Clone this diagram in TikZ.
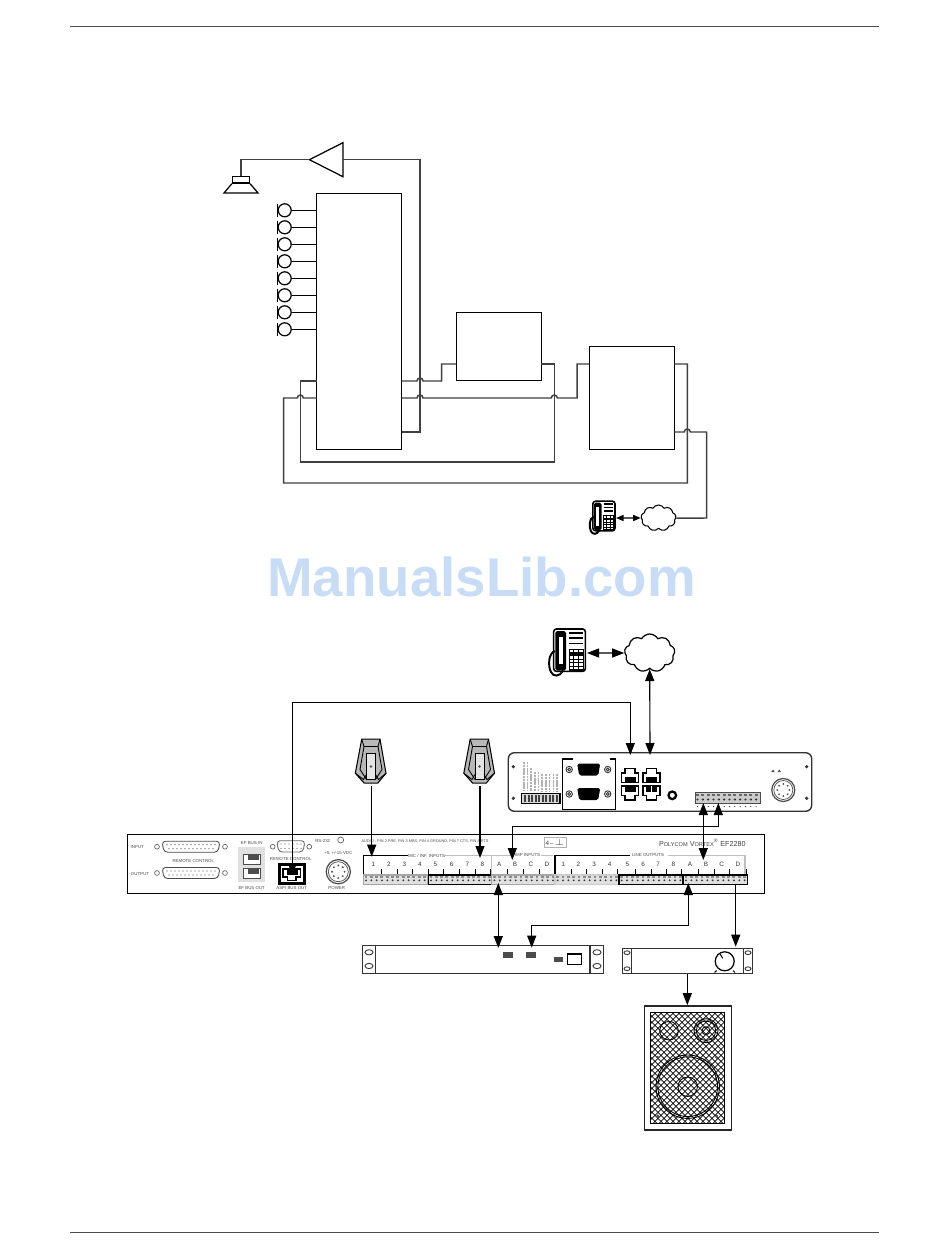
\documentclass[tikz,border=0pt]{standalone}
\usepackage{fontspec}
\setmainfont{Liberation Sans}
\usetikzlibrary{arrows.meta,shapes.geometric,shapes.symbols,calc}

\definecolor{markblue}{RGB}{200,220,245}

\tikzset{
	box/.style={draw=black, line width=0.7pt, fill=white, inner sep=0pt},
	wire/.style={draw=black!75, line width=0.85pt, line join=miter},
	link/.style={draw=black, line width=0.65pt},
	tinytext/.style={font=\fontsize{2.5}{3}\selectfont, text=black!70, inner sep=0pt},
	numtext/.style={font=\fontsize{3.6}{4}\selectfont, text=black!80, inner sep=0pt},
	rackcase/.style={draw=black!80, line width=0.8pt, fill=white},
	% desk telephone, drawn around its middle
	phone/.pic={
		\draw[black, line width=0.9pt, fill=white, rounded corners=1.5] (-12.3,-24) rectangle (19.3,18.3);
		\fill[black, rounded corners=1] (-10.7,-22) rectangle (0,17.5);
		\fill[white] (-7.5,-16) rectangle (-3.5,11);
		\draw[black, line width=1.1pt] (-11,-2) .. controls (-18,0) and (-18,14) .. (-15,19) .. controls (-13,24) and (-6,24) .. (-3,17.5);
		\foreach \ly in {-20,-15,-9.5} {
			\draw[black, line width=1.1pt] (3,\ly) -- (17,\ly);
		}
		\fill[black] (2.5,-4.5) rectangle (17.5,17.5);
		\foreach \kx in {3.5,8.3,13.1} {
			\fill[white] (\kx,-3.5) rectangle ++(3.6,2.8);
			\foreach \ky in {3,6.6,10.2,13.6} {
				\fill[white] (\kx,\ky) rectangle ++(3.6,2.6);
			}
		}
	},
	% telescoping gooseneck style microphone seen from the top
	micro/.pic={
		\draw[black, line width=0.6pt, fill=black!28] (-9.3,-22.3) -- (9,-22.3) -- (15,11.7) -- (6.7,21.7) -- (-6.7,21.7) -- (-15.7,11.7) -- cycle;
		\draw[black, line width=0.5pt, fill=black!10] (-4.5,-8) rectangle (4.5,18);
		\draw[black, line width=0.5pt] (-9.3,-22.3) -- (-7,-15) -- (7,-15) -- (9,-22.3);
		\draw[black, line width=0.5pt] (-7,-15) -- (-11,8) -- (-4.5,18);
		\draw[black, line width=0.5pt] (7,-15) -- (11,8) -- (4.5,18);
		\draw[black, line width=0.5pt] (-15.7,11.7) -- (-7.5,18) -- (-4.5,13);
		\draw[black, line width=0.5pt] (15,11.7) -- (7.5,18) -- (4.5,13);
		\fill[black!70] (0,5) circle (1.3);
	},
	% modular jack with the latch notch on top
	jack/.pic={
		\draw[black, line width=0.8pt, fill=white] (-8.5,7) -- (-8.5,-2.5) -- (-5,-2.5) -- (-5,-7) -- (5,-7) -- (5,-2.5) -- (8.5,-2.5) -- (8.5,7) -- cycle;
		\fill[black] (-5.5,1.5) rectangle (5.5,7);
	},
	% nine pin sub-D with its two screws
	subd/.pic={
		\fill[black, rounded corners=1] (-11.5,-6) -- (11.5,-6) -- (9.5,6) -- (-9.5,6) -- cycle;
		\foreach \sx in {-19.5,19} {
			\draw[black!80, line width=0.5pt] (\sx,0) circle (3.2);
			\draw[black!80, line width=0.5pt] (\sx,0) circle (1.5);
		}
	},
	% twenty five pin connector outline for the back panel
	dbplug/.pic={
		\draw[black!70, line width=0.5pt, rounded corners=2] (-29,-5.5) -- (29,-5.5) -- (27,5.5) -- (-27,5.5) -- cycle;
		\foreach \dx in {-24,-20,...,24} {
			\fill[black!70] (\dx,-2) circle (0.7);
		}
		\foreach \dx in {-22,-18,...,22} {
			\fill[black!70] (\dx,2) circle (0.7);
		}
		\draw[black!60, line width=0.4pt] (-34,0) circle (2.4);
		\draw[black!60, line width=0.4pt] (34,0) circle (2.4);
	},
	% round power socket
	din/.pic={
		\draw[black!70, line width=0.7pt] (0,0) circle (11.5);
		\draw[black!70, line width=0.4pt] (0,0) circle (9.5);
		\foreach \pa in {0,45,...,315} {
			\fill[black!70] (\pa:6) circle (1);
		}
	},
}

\begin{document}
\begin{tikzpicture}[x=0.02cm, y=-0.02cm, line cap=butt, >={Triangle[length=0.24cm, width=0.18cm]}]

	\useasboundingbox (0,0) rectangle (950,1260);
	\fill[white] (0,0) rectangle (950,1260);

	% Page rules
	\coordinate (ruleTL) at (70,26.5);
	\coordinate (ruleTR) at (879,26.5);
	\coordinate (ruleBL) at (70,1232.5);
	\coordinate (ruleBR) at (879,1232.5);
	\draw[black!70, line width=0.6pt] (ruleTL) -- (ruleTR);
	\draw[black!70, line width=0.6pt] (ruleBL) -- (ruleBR);

	% Watermark
	\node[inner sep=0pt, text=markblue, font=\fontsize{31.1}{36}\selectfont\bfseries] (mark) at (481.5,577) {ManualsLib.com};

	%%% Upper schematic %%%

	% Boxes
	\node[box, minimum width=1.7cm, minimum height=5.12cm] (mixer) at (359,321.2) {};
	\node[box, minimum width=1.7cm, minimum height=1.36cm] (hybrid) at (498.8,346.3) {};
	\node[box, minimum width=1.7cm, minimum height=2.06cm] (coder) at (631.8,397.8) {};

	% Amplifier and loudspeaker
	\node[draw=black, line width=0.7pt, isosceles triangle, isosceles triangle stretches, shape border rotate=180, minimum width=0.68cm, minimum height=0.67cm, inner sep=0pt] (poweramp) at (332.5,159.7) {};
	\coordinate (ampback) at (343,159.5);
	\node[box, minimum width=0.34cm, minimum height=0.134cm] (spkhead) at (241,179.7) {};
	\draw[black, line width=0.7pt] (spkhead.south west) -- (224,193) -- (258,193) -- (spkhead.south east);
	\draw[wire] (poweramp.apex) -| (spkhead.north);

	% Microphones along the left side
	\foreach \i [evaluate=\i as \cy using 210.3+17*(\i-1)] in {1,...,8} {
		\node[draw=black, line width=0.7pt, circle, minimum size=0.26cm, inner sep=0pt] (mic\i) at (284.7,\cy) {};
		\draw[black, line width=0.7pt] ([yshift=0.13cm]mic\i.west) -- ([yshift=-0.13cm]mic\i.west);
		\draw[black, line width=0.6pt] (mic\i.east) -- (mic\i.east -| mixer.west);
	}

	% Ports on the box sides
	\coordinate (mixR1) at (401.5,381);
	\coordinate (mixR2) at (401.5,398);
	\coordinate (mixR3) at (401.5,432);
	\coordinate (mixL1) at (316.5,381);
	\coordinate (mixL2) at (316.5,398);
	\coordinate (hybL) at (456.3,364);
	\coordinate (hybR) at (541.3,364);
	\coordinate (codL) at (589.3,364);
	\coordinate (codR1) at (674.3,364);
	\coordinate (codR2) at (674.3,432);

	% Phone line side
	\pic[scale=0.7] at (601.5,518) {phone};
	\node[draw=black, line width=0.6pt, cloud, cloud puffs=9, cloud puff arc=120, aspect=1.3, minimum width=0.7cm, minimum height=0.52cm, inner sep=0pt] (pstnA) at (658.5,518) {};
	\coordinate (phoneA) at (616,518);
	\draw[{Triangle[length=0.15cm, width=0.12cm]}-{Triangle[length=0.15cm, width=0.12cm]}, link] (phoneA) -- (pstnA.west);

	% Wiring
	\draw[wire] (ampback) -- (420,159.5) -- (420,432) -- (mixR3);
	\draw[wire] (mixR1) -- (417,381) arc[start angle=180, delta angle=180, radius=3] -- (441.7,381) -- (441.7,364) -- (hybL);
	\draw[wire] (mixR2) -- (417,398) arc[start angle=180, delta angle=180, radius=3] -- (551.3,398) arc[start angle=180, delta angle=180, radius=3] -- (577,398) -- (577,364) -- (codL);
	\draw[wire] (hybR) -- (554.3,364) -- (554.3,462) -- (300.3,462) -- (300.3,381) -- (mixL1);
	\draw[wire] (codR1) -- (687.3,364) -- (687.3,483) -- (283.7,483) -- (283.7,398) -- (297.3,398) arc[start angle=180, delta angle=180, radius=3] -- (mixL2);
	\draw[wire] (codR2) -- (684.3,432) arc[start angle=180, delta angle=180, radius=3] -- (706.5,432) -- (706.5,518) -- (pstnA.east);

	%%% Lower wiring diagram %%%

	% Telephone and network
	\pic at (566,653) {phone};
	\coordinate (phoneB) at (587,653);
	\node[draw=black, line width=0.7pt, cloud, cloud puffs=9, cloud puff arc=120, aspect=1.35, minimum width=1.01cm, minimum height=0.76cm, inner sep=0pt] (pstnB) at (649.7,653) {};
	\draw[<->, link] (phoneB) -- (pstnB.west);

	% Microphones on the table
	\pic at (371,761.5) {micro};
	\pic at (479.5,761.5) {micro};
	\coordinate (micA) at (371.7,786);
	\coordinate (micB) at (480,786);

	% Telephone hybrid unit
	\node[draw=black!80, line width=0.8pt, rounded corners=0.12cm, minimum width=6.07cm, minimum height=1.17cm, inner sep=0pt] (hybunit) at (660,782) {};
	\foreach \sx/\sy in {513.3/766.7, 513.3/798.3, 806.7/766.7, 806.7/798.3} {
		\fill[black!80] (\sx,\sy) circle (1.8);
	}
	\foreach \ax/\ay in {524/762, 527.5/762, 531/768, 535/772, 538.5/772, 542/774, 546/774, 549.5/774, 553.5/774, 557/774} {
		\draw[black!30, line width=0.6pt, dash pattern=on 1.2pt off 0.4pt] (\ax,\ay) -- (\ax,791);
	}
	\draw[black, line width=0.6pt, fill=black!15] (521.7,793.3) rectangle (560,803.3);
	\foreach \ax in {524,527.5,...,558} {
		\fill[black!75] (\ax,795) rectangle ++(2.2,6.5);
	}
	\draw[black, line width=0.7pt] (573,759) -- (562.7,759) -- (562.7,809.3) -- (615.7,809.3) -- (615.7,759) -- (610,759);
	\pic at (588.7,769.5) {subd};
	\pic at (588.7,794) {subd};
	\pic at (630,775.5) {jack};
	\pic at (651.5,775.5) {jack};
	\pic[yscale=-1] at (630,793) {jack};
	\pic[yscale=-1] at (651.5,793) {jack};
	\draw[white, line width=0.7pt] (651.5,786) -- (651.5,792);
	\draw[black, line width=1.3pt, fill=white] (672.3,795.3) circle (3.8);
	\draw[black!70, line width=0.5pt, fill=black!20] (695,792.7) rectangle (760,803.3);
	\foreach \t in {0,...,11} {
		\fill[black!80] (\t*5.33+697.5,799.5) circle (1.2);
		\fill[black!60] (\t*5.33+696,794) rectangle ++(3,2);
		\fill[black!80] (\t*5.33+697.5,806.5) circle (0.6);
	}
	\pic at (783.3,790) {din};
	\fill[black!70] (773,769.5) -- (771.3,772) -- (774.7,772) -- cycle;
	\fill[black!70] (779.3,769.5) -- (777.6,772) -- (781,772) -- cycle;
	\coordinate (hybPortA) at (630.3,755);
	\coordinate (hybPortB) at (650,755);
	\coordinate (hybTermA) at (703.3,803);
	\coordinate (hybTermB) at (718.3,803);

	% Back panel of the mixer
	\node[draw=black, line width=0.7pt, minimum width=12.74cm, minimum height=1.18cm, inner sep=0pt] (panel) at (445.8,864) {};
	\node[tinytext] (lblinput) at (137.3,846.7) {INPUT};
	\node[tinytext] (lbloutput) at (140,874) {OUTPUT};
	\pic at (191,846.7) {dbplug};
	\pic at (191,873) {dbplug};
	\node[tinytext] (lblremA) at (193.3,861) {REMOTE CONTROL};
	\node[tinytext] (lblbusin) at (251.7,842.7) {EF BUS IN};
	\node[tinytext] (lblbusout) at (251.7,888.3) {EF BUS OUT};
	\fill[black!12] (238.3,846.7) rectangle (265,882.3);
	\foreach \jy in {859.3,873.3} {
		\draw[black!70, line width=0.5pt, fill=white] (243,\jy-5) rectangle (260.5,\jy+5);
		\fill[black!70] (248,\jy-4) rectangle (259,\jy+1);
	}
	\draw[black!60, line width=0.5pt, rounded corners=2] (276.7,840.7) -- (305,840.7) -- (303,852) -- (278.7,852) -- cycle;
	\foreach \dx in {281,285,...,301} {
		\fill[black!60] (\dx,844) circle (0.7);
		\fill[black!60] (\dx,848.5) circle (0.7);
	}
	\draw[black!60, line width=0.4pt] (272.7,846.7) circle (2.4);
	\draw[black!60, line width=0.4pt] (309.3,846.7) circle (2.4);
	\node[tinytext] (lblremB) at (290.7,859.3) {REMOTE CONTROL};
	\draw[black, line width=1.5pt, fill=white] (279.3,864.3) rectangle (304.3,883.3);
	\draw[black, line width=0.6pt] (283,877) -- (283,869) -- (300.5,869) -- (300.5,877) -- (296,877) -- (296,880.5) -- (287.5,880.5) -- (287.5,877) -- cycle;
	\fill[black] (286.7,868) rectangle (297.7,875);
	\node[tinytext] (lblaspi) at (291.7,888.3) {ASPI BUS OUT};
	\node[tinytext] (lblrs) at (322.7,840.7) {RS-232};
	\draw[black!60, line width=0.4pt] (340.7,840) circle (3);
	\node[tinytext] (lblvdc) at (338.3,852.7) {+5, +/-15 VDC};
	\pic[scale=1.05] at (338.3,871.7) {din};
	\node[tinytext] (lblpower) at (336.7,888.3) {POWER};
	\node[tinytext, font=\fontsize{2.2}{3}\selectfont] (lblpins) at (425,841) {AUDIO - PIN 2 PRE, PIN 3 MBS, PIN 4 GROUND, PIN 7 CTS, PIN 8 RTS};
	\node[draw=black!30, line width=0.3pt, inner sep=1pt, font=\fontsize{3.6}{4}\selectfont, text=black!75] (lbllogic) at (555,842) {4\,--\,$\perp$};
	\node[inner sep=0pt, anchor=east, text=black!75] (brand) at (746,842.5) {\fontsize{4.1}{6}\selectfont P{\fontsize{3.2}{6}\selectfont OLYCOM} V{\fontsize{3.2}{6}\selectfont ORTEX}\textsuperscript{\textregistered}\ \fontsize{4.1}{6}\selectfont EF2280};

	% Channel headings
	\draw[black, line width=0.6pt] (363.3,875) -- (363.3,855.7) -- (408,855.7);
	\node[tinytext] (lblmic) at (426.5,855.7) {MIC / INF. INPUTS};
	\draw[black!25, line width=0.6pt] (445,855.7) -- (491.7,855.7) -- (491.7,875);
	\draw[black!25, line width=0.6pt] (491.7,855.7) -- (513,855.7);
	\node[tinytext] (lblamp) at (526.7,854.7) {AMP INPUTS};
	\draw[black!25, line width=0.6pt] (541,855.7) -- (553,855.7);
	\draw[black, line width=0.6pt] (555,875) -- (555,855.7) -- (630,855.7);
	\node[tinytext] (lblline) at (648,854.7) {LINE OUTPUTS};
	\draw[black!25, line width=0.6pt] (668,855.7) -- (745,855.7) -- (745,875);

	% Channel numbers
	\foreach \n/\lx [count=\c] in {1/373.3, 2/389, 3/404.5, 4/420, 5/435.5, 6/451.7, 7/467.3, 8/482.3, A/499.3, B/515, C/531, D/547, 1/563.3, 2/578.5, 3/594, 4/609.7, 5/627.3, 6/643, 7/658, 8/673.3, A/690, B/706, C/721.7, D/738} {
		\node[numtext] (ch\c) at (\lx,864.3) {\n};
		\draw[black, line width=0.4pt] (\lx+8,869) -- (\lx+8,875);
	}

	% Terminal strips
	\foreach \gx/\gc in {363.3/black!35, 428.3/black, 491.7/black!35, 555/black!20, 619/black, 683.3/black} {
		\draw[draw=\gc, line width=0.6pt, fill=black!12] (\gx,875) rectangle ++(64,9.4);
		\foreach \t in {0,...,11} {
			\fill[black!80] (\gx+\t*5.33+2.7,880.3) circle (1);
			\fill[black!45] (\gx+\t*5.33+1.2,876) rectangle ++(2.8,1.8);
		}
	}
	\coordinate (inMicA) at (371.7,856.7);
	\coordinate (inMicB) at (480,858);
	\coordinate (inAmp) at (512.3,860);
	\coordinate (outB) at (703.3,860);
	\coordinate (aspi) at (292.3,875);
	\coordinate (inAecA) at (498.3,883);
	\coordinate (outA) at (688.3,883);
	\coordinate (outD) at (735.7,884);

	% Rack unit with the echo cancellers
	\node[rackcase, minimum width=4.83cm, minimum height=0.55cm, inner sep=0pt] (rack) at (483,959.5) {};
	\draw[black!80, line width=0.8pt] (375.7,945.7) -- (375.7,973.3);
	\draw[black!80, line width=0.8pt] (590,945.7) -- (590,973.3);
	\foreach \hx/\hy in {369/952.3, 369/966, 597/952.3, 597/966} {
		\draw[black!80, line width=0.5pt] (\hx,\hy) ellipse (4 and 2.6);
	}
	\fill[black!70] (503,952.3) rectangle (513,957.6);
	\fill[black!70] (526,952.3) rectangle (536,957.6);
	\fill[black!70] (553.5,957) rectangle (562.5,961.5);
	\draw[black, line width=0.6pt] (567.3,954) rectangle (581.7,964.7);
	\coordinate (rackA) at (498.3,948);
	\coordinate (rackB) at (531.7,947.7);

	% Power amplifier with its knob
	\node[rackcase, minimum width=2.61cm, minimum height=0.5cm, inner sep=0pt] (ampunit) at (687.5,960.8) {};
	\draw[black!80, line width=0.8pt] (631.7,948.3) -- (631.7,973.3);
	\draw[black!80, line width=0.8pt] (743.3,948.3) -- (743.3,973.3);
	\foreach \hx/\hy in {627/952.7, 627/968.7, 748/952.7, 748/968.7} {
		\draw[black!80, line width=0.5pt] (\hx,\hy) ellipse (3 and 1.9);
	}
	\node[draw=black, line width=0.7pt, circle, minimum size=0.38cm, inner sep=0pt] (knob) at (724.7,961.3) {};
	\draw[black, line width=0.6pt] (knob.center) ++(-5,-8) -- ++(3,5);
	\draw[black, line width=0.6pt] (716.5,970.5) -- (714.5,972.5);
	\draw[black, line width=0.6pt] (733,970.5) -- (735,972.5);

	% Loudspeaker cabinet with its grille
	\node[draw=black!85, line width=0.9pt, minimum width=1.74cm, minimum height=2.48cm, inner sep=0pt] (cabinet) at (687.8,1068) {};
	\begin{scope}
		\clip (650.3,1012.3) rectangle (724.7,1123.3);
		\foreach \hx in {540,546,...,726} {
			\draw[black, line width=0.4pt] (\hx,1012.3) -- ++(112,112);
		}
		\foreach \hx in {650,656,...,836} {
			\draw[black, line width=0.4pt] (\hx,1012.3) -- ++(-112,112);
		}
	\end{scope}
	\draw[black, line width=0.8pt] (650.3,1012.3) rectangle (724.7,1123.3);
	\draw[black, line width=0.5pt] (669,1030.7) circle (9.3);
	\draw[black, line width=0.5pt] (706,1030.7) circle (12);
	\draw[black, line width=0.5pt] (706,1030.7) circle (9.7);
	\draw[black, line width=0.5pt] (706,1030.7) circle (4);
	\draw[black, line width=0.5pt] (687.7,1086.7) circle (31.7);
	\draw[black, line width=0.5pt] (687.7,1086.7) circle (29.8);
	\draw[black, line width=0.5pt] (687.7,1086.7) circle (9.7);
	\foreach \sx/\sy in {657.7/1057.3, 716.7/1057.3, 657.7/1116, 716.7/1116} {
		\fill[black!70] (\sx,\sy) circle (1.6);
	}

	% Connections
	\draw[<->, link] (pstnB.south) -- (hybPortB);
	\draw[<->, link] (aspi) -- (292.3,702.3) -- (630.3,702.3) -- (hybPortA);
	\draw[->, link] (micA) -- (inMicA);
	\draw[->, link] (micB) -- (inMicB);
	\draw[<->, link] (hybTermA) -- (outB);
	\draw[<->, link] (hybTermB) -- (718.3,826.5) -- (512.3,826.5) -- (inAmp);
	\draw[<->, link] (inAecA) -- (rackA);
	\draw[<->, link] (outA) -- (688.3,925.3) -- (531.7,925.3) -- (rackB);
	\draw[->, link] (outD) -- (735.7,946.7);
	\draw[->, link] (ampunit.south -| 687.3,0) -- (cabinet.north -| 687.3,0);

\end{tikzpicture}
\end{document}
